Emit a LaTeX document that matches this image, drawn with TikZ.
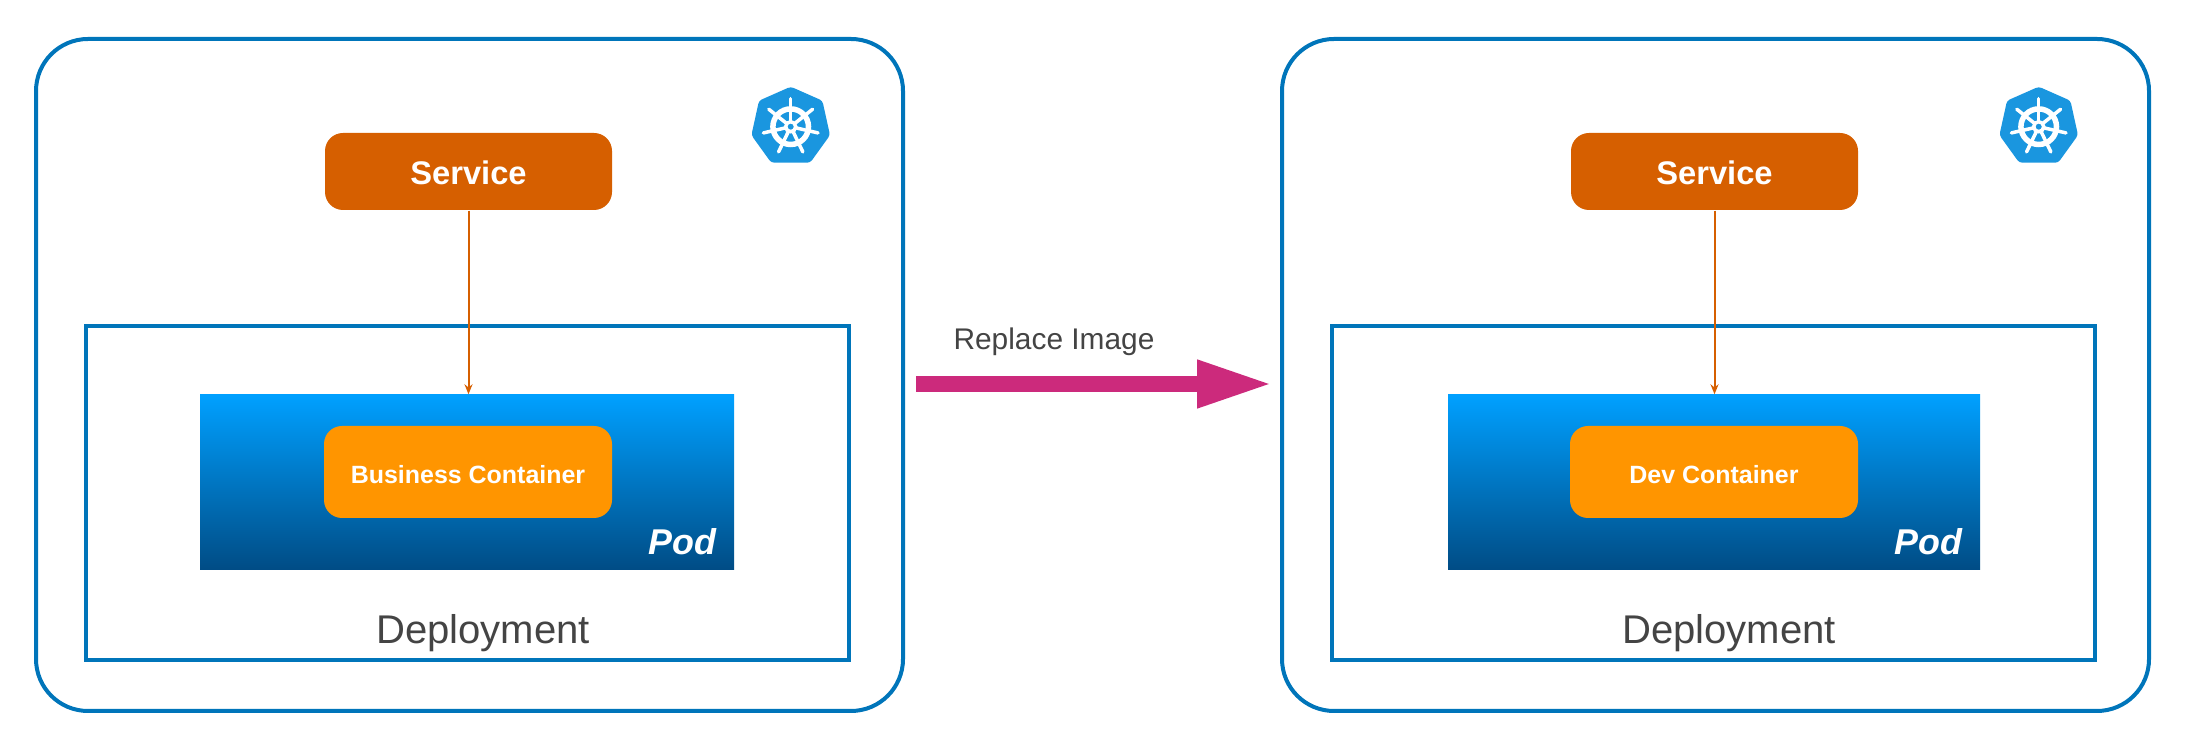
\documentclass[tikz,border=0pt]{standalone}
\usepackage{fontspec}
\setmainfont{Liberation Sans}
\usetikzlibrary{arrows.meta}
\definecolor{frameblue}{HTML}{0075BA}
\definecolor{servicered}{HTML}{D65F00}
\definecolor{containerorange}{HTML}{FF9500}
\definecolor{podtop}{HTML}{00A0FF}
\definecolor{podmid}{HTML}{0089DA}
\definecolor{podbottom}{HTML}{004C85}
\definecolor{replacepink}{HTML}{CC2A7C}
\definecolor{labelgray}{HTML}{444444}
\definecolor{wheelblue}{HTML}{1A96DF}

\tikzset{
    clusterbox/.style={
        draw=frameblue,
        line width=0.04cm,
        rounded corners=0.52cm,
        minimum width=8.67cm,
        minimum height=6.72cm,
        inner sep=0pt
    },
    deploybox/.style={
        draw=frameblue,
        line width=0.04cm,
        minimum width=7.63cm,
        minimum height=3.34cm,
        inner sep=0pt
    },
    servicebox/.style={
        fill=servicered,
        rounded corners=0.18cm,
        minimum width=2.87cm,
        minimum height=0.77cm,
        inner sep=0pt,
        text=white,
        text height=0.26cm,
        text depth=0pt,
        font=\fontsize{9.3pt}{11pt}\selectfont\bfseries
    },
    podbox/.style={
        top color=podtop,
        middle color=podmid,
        bottom color=podbottom,
        minimum height=1.75cm,
        inner sep=0pt
    },
    containerbox/.style={
        fill=containerorange,
        rounded corners=0.18cm,
        minimum width=2.88cm,
        minimum height=0.92cm,
        inner sep=0pt,
        text=white,
        text height=0.24cm,
        text depth=0pt,
        font=\fontsize{7.1pt}{9pt}\selectfont\bfseries
    },
    podlabel/.style={
        anchor=base east,
        inner sep=0pt,
        text=white,
        font=\fontsize{10.2pt}{12pt}\selectfont\bfseries\itshape
    },
    deploylabel/.style={
        anchor=base,
        inner sep=0pt,
        text=labelgray,
        font=\fontsize{11.4pt}{13pt}\selectfont
    },
    wiring/.style={
        -{Stealth[length=0.1cm,width=0.08cm]},
        line width=0.02cm,
        servicered
    },
    replacearrow/.style={
        -{Triangle[length=0.76cm,width=0.44cm]},
        line width=0.16cm,
        replacepink
    }
}

% heptagon with the white wheel
\newcommand{\wheelmark}[1]{
    \begin{scope}[shift={#1}]
        \fill[
            wheelblue,
            rounded corners=0.03cm
        ] (0,0.40) -- (0.317,0.26) -- (0.393,-0.085) -- (0.195,-0.36)
            -- (-0.195,-0.36) -- (-0.393,-0.085) -- (-0.317,0.26) -- cycle;
        \draw[
            white,
            line width=0.055cm
        ] (0,0) circle (0.178);
        \draw[
            white,
            line width=0.035cm
        ] (0,0) circle (0.05);
        \foreach \spoke in {0,...,6}
            \draw[
                white,
                line width=0.035cm,
                line cap=round
            ] ({90+\spoke*360/7}:0.06) -- ({90+\spoke*360/7}:0.28);
    \end{scope}
}

\begin{document}
\begin{tikzpicture}

\useasboundingbox (0,0) rectangle (21.94,7.48);

% ---------------- LEFT ----------------

\node[clusterbox] (cluster1) at (4.695,3.73) {};
\node[deploybox] (deploy1) at (4.675,2.55) {};
\node[servicebox] (service1) at (4.685,5.765) {Service};
\node[podbox, minimum width=5.34cm] (pod1) at (4.67,2.655) {};
\node[containerbox] (container1) at (4.68,2.76) {Business Container};
\node[podlabel] (podtext1) at (7.17,1.93) {Pod};
\node[deploylabel] (deploytext1) at (4.83,1.04) {Deployment};

% Service cap al pod
\draw[wiring] (service1.south) -- (service1.south |- pod1.north);

\wheelmark{(7.907,6.213)}

% ---------------- RIGHT ----------------

\node[clusterbox] (cluster2) at (17.155,3.73) {};
\node[deploybox] (deploy2) at (17.135,2.55) {};
\node[servicebox] (service2) at (17.145,5.765) {Service};
\node[podbox, minimum width=5.32cm] (pod2) at (17.14,2.655) {};
\node[containerbox] (container2) at (17.14,2.76) {Dev Container};
\node[podlabel] (podtext2) at (19.63,1.93) {Pod};
\node[deploylabel] (deploytext2) at (17.29,1.04) {Deployment};

% Service cap al pod
\draw[wiring] (service2.south) -- (service2.south |- pod2.north);

\wheelmark{(20.387,6.213)}

% ---------------- REPLACE ----------------

\coordinate (replacestart) at (9.16,3.64);
\coordinate (replaceend) at (12.73,3.64);
\draw[replacearrow] (replacestart) -- (replaceend);

\node[
    anchor=base,
    inner sep=0pt,
    text=labelgray,
    font=\fontsize{8.5pt}{10pt}\selectfont
] (replacetext) at (10.54,3.98) {Replace Image};

\end{tikzpicture}
\end{document}
